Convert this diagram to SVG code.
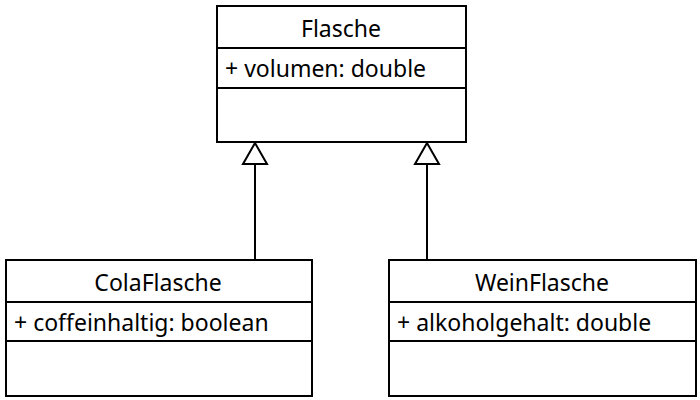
<svg xmlns="http://www.w3.org/2000/svg" width="700" height="400" viewBox="0 0 700 400">
<style>
.box{fill:#fff;stroke:#000;stroke-width:2}
.div{stroke:#000;stroke-width:2;fill:none}
.t{font-family:"Noto Sans",sans-serif;font-size:23px;fill:#000}
.c{text-anchor:middle}
.edge{stroke:#000;stroke-width:2;fill:none}
</style>
<rect width="700" height="400" fill="#fff"/>
<g id="connectors">
<path class="edge" d="M255,260 V164"/>
<path d="M255,143 L243,164 L267,164 Z" fill="#fff" stroke="#000" stroke-width="2"/>
<path class="edge" d="M427,260 V164"/>
<path d="M427,143 L415,164 L439,164 Z" fill="#fff" stroke="#000" stroke-width="2"/>
</g>
<g id="Flasche">
<rect class="box" x="217" y="6" width="249" height="136"/>
<line class="div" x1="217" y1="48" x2="465" y2="48"/>
<line class="div" x1="217" y1="88" x2="465" y2="88"/>
<text class="t c" x="341" y="37">Flasche</text>
<text class="t" x="225" y="77">+ volumen: double</text>
</g>
<g id="ColaFlasche">
<rect class="box" x="6" y="260" width="306" height="136"/>
<line class="div" x1="6" y1="302" x2="311" y2="302"/>
<line class="div" x1="6" y1="341" x2="311" y2="341"/>
<text class="t c" x="158" y="291">ColaFlasche</text>
<text class="t" x="14" y="331">+ coffeinhaltig: boolean</text>
</g>
<g id="WeinFlasche">
<rect class="box" x="389" y="260" width="307" height="136"/>
<line class="div" x1="389" y1="302" x2="695" y2="302"/>
<line class="div" x1="389" y1="341" x2="695" y2="341"/>
<text class="t c" x="542" y="291">WeinFlasche</text>
<text class="t" x="397" y="331">+ alkoholgehalt: double</text>
</g>
</svg>
